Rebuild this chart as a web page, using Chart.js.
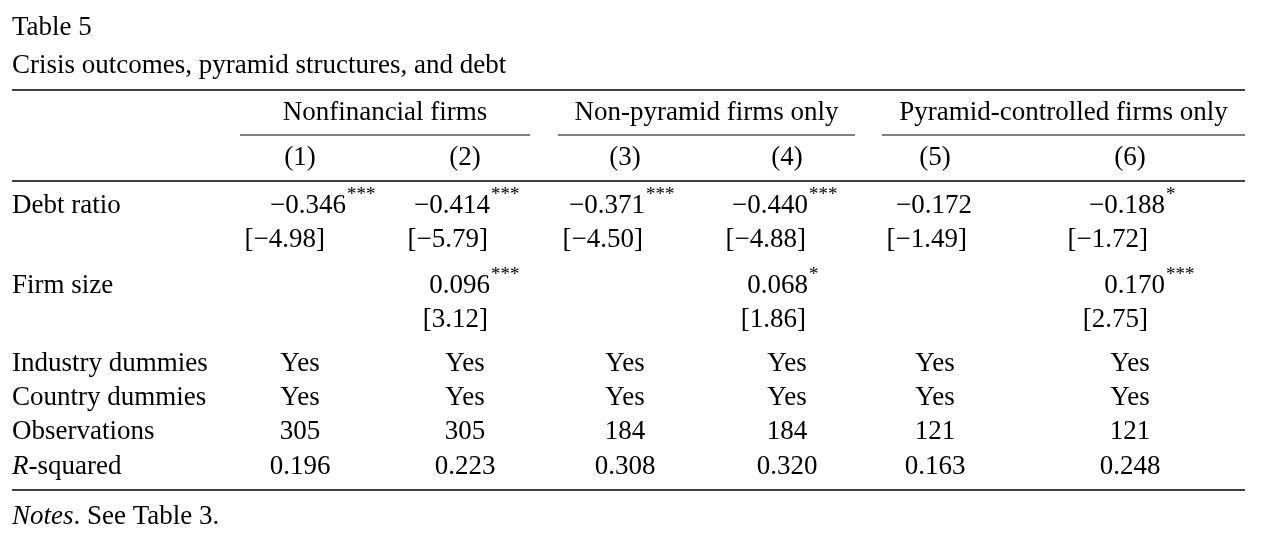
<!DOCTYPE html>
<html><head><meta charset="utf-8">
<script src="https://cdn.jsdelivr.net/npm/chart.js@4"></script>
<style>html,body{margin:0;background:#fff}#c{display:block}</style>
</head><body>
<div style="width:1261px;height:539px"><canvas id="c"></canvas></div>
<script>
// table content
var groups = ['Nonfinancial firms', 'Non-pyramid firms only', 'Pyramid-controlled firms only'];
var colLabels = ['(1)', '(2)', '(3)', '(4)', '(5)', '(6)'];
var debtCoef = ['\u22120.346', '\u22120.414', '\u22120.371', '\u22120.440', '\u22120.172', '\u22120.188'];
var debtStars = ['***', '***', '***', '***', '', '*'];
var debtT = ['[\u22124.98]', '[\u22125.79]', '[\u22124.50]', '[\u22124.88]', '[\u22121.49]', '[\u22121.72]'];
var sizeCoef = ['', '0.096', '', '0.068', '', '0.170'];
var sizeStars = ['', '***', '', '*', '', '***'];
var sizeT = ['', '[3.12]', '', '[1.86]', '', '[2.75]'];
var industry = ['Yes', 'Yes', 'Yes', 'Yes', 'Yes', 'Yes'];
var country = ['Yes', 'Yes', 'Yes', 'Yes', 'Yes', 'Yes'];
var observations = ['305', '305', '184', '184', '121', '121'];
var rsquared = ['0.196', '0.223', '0.308', '0.320', '0.163', '0.248'];

// layout (pixels in the 1261x539 frame)
var colCenter = [300, 465, 625, 787, 935, 1130];
var numRight = [346, 490, 645, 808, 972, 1165];
var brkRight = [325, 488, 643, 806, 967, 1148];
var groupSpan = [[240, 530], [558, 855], [882, 1245]];

var cells = [];
function addRow(vals, y, kind, stars) {
  vals.forEach(function (v, i) {
    if (!v) return;
    var x = kind === 'num' ? numRight[i] : kind === 'brk' ? brkRight[i] : colCenter[i];
    cells.push({x: x, y: y, text: v, kind: kind, stars: stars ? stars[i] : ''});
  });
}
addRow(colLabels, 158, 'c');
addRow(debtCoef, 206, 'num', debtStars);
addRow(debtT, 240, 'brk');
addRow(sizeCoef, 286, 'num', sizeStars);
addRow(sizeT, 320, 'brk');
addRow(industry, 364, 'c');
addRow(country, 398, 'c');
addRow(observations, 432, 'c');
addRow(rsquared, 467, 'c');

var F = '"Liberation Serif", "DejaVu Serif", serif';
var FS = '27px ';
var tablePlugin = {
  id: 'table',
  afterDatasetsDraw: function (chart) {
    var ctx = chart.ctx, sx = chart.scales.x, sy = chart.scales.y;
    var X = function (v) { return sx.getPixelForValue(v); };
    var Y = function (v) { return sy.getPixelForValue(v); };
    ctx.save();
    ctx.fillStyle = '#000'; ctx.strokeStyle = '#000';
    ctx.textBaseline = 'middle';
    ctx.font = FS + F;
    ctx.textAlign = 'left';
    ctx.fillText('Table 5', X(12), Y(28));
    ctx.fillText('Crisis outcomes, pyramid structures, and debt', X(12), Y(66));
    [['Debt ratio', 206], ['Firm size', 286], ['Industry dummies', 364], ['Country dummies', 398], ['Observations', 432]].forEach(function (r) {
      ctx.fillText(r[0], X(12), Y(r[1]));
    });
    ctx.font = 'italic ' + FS + F;
    ctx.fillText('R', X(12), Y(467));
    var w = ctx.measureText('R').width;
    ctx.font = FS + F;
    ctx.fillText('-squared', X(12) + w, Y(467));
    ctx.font = 'italic ' + FS + F;
    ctx.fillText('Notes', X(12), Y(517));
    w = ctx.measureText('Notes').width;
    ctx.font = FS + F;
    ctx.fillText('. See Table 3.', X(12) + w, Y(517));
    // rules
    ctx.lineWidth = 1.5;
    [90, 181, 490].forEach(function (y) {
      ctx.beginPath(); ctx.moveTo(X(12), Y(y)); ctx.lineTo(X(1245), Y(y)); ctx.stroke();
    });
    ctx.lineWidth = 1;
    ctx.textAlign = 'center';
    groups.forEach(function (g, i) {
      var s = groupSpan[i];
      ctx.fillText(g, X((s[0] + s[1]) / 2), Y(113));
      ctx.beginPath(); ctx.moveTo(X(s[0]), Y(135)); ctx.lineTo(X(s[1]), Y(135)); ctx.stroke();
    });
    chart.data.datasets[0].data.forEach(function (c) {
      ctx.font = FS + F;
      ctx.textAlign = c.kind === 'c' ? 'center' : 'right';
      ctx.fillText(c.text, X(c.x), Y(c.y));
      if (c.stars) {
        ctx.font = '19px ' + F;
        ctx.textAlign = 'left';
        ctx.fillText(c.stars, X(c.x) + 1, Y(c.y) - 11);
      }
    });
    ctx.restore();
  }
};

new Chart(document.getElementById('c'), {
  type: 'scatter',
  data: {datasets: [{data: cells, pointRadius: 0, pointHoverRadius: 0}]},
  options: {
    responsive: true, maintainAspectRatio: false, animation: false,
    layout: {padding: 0},
    events: [],
    plugins: {legend: {display: false}, tooltip: {enabled: false}},
    scales: {
      x: {type: 'linear', min: 0, max: 1261, display: false},
      y: {type: 'linear', min: 0, max: 539, reverse: true, display: false}
    }
  },
  plugins: [tablePlugin]
});
</script>
</body></html>
